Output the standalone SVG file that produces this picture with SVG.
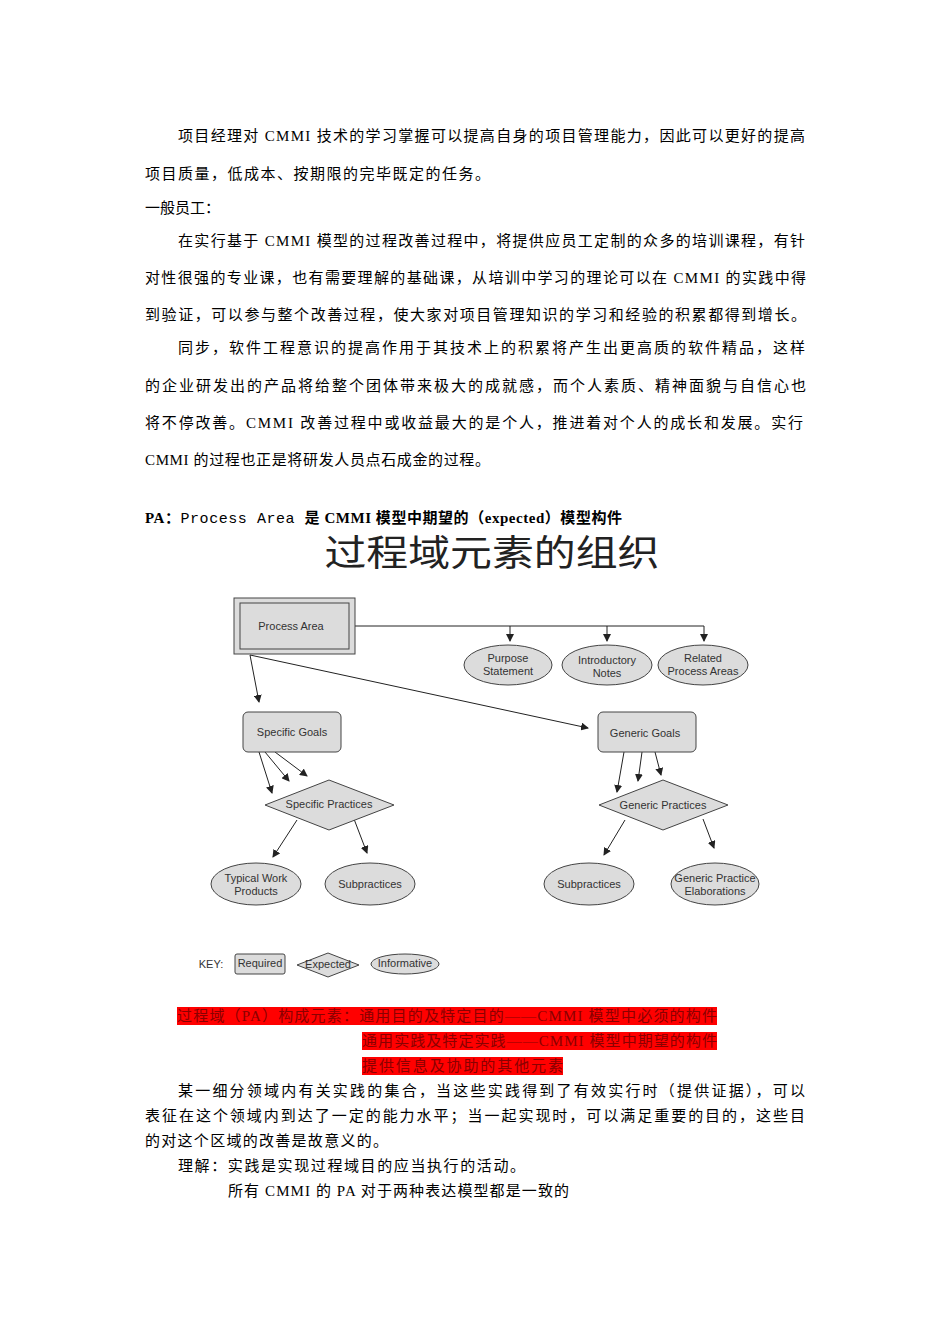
<svg xmlns="http://www.w3.org/2000/svg" width="950" height="1344" viewBox="0 0 950 1344">
<style>
.b{font-family:"Liberation Serif","Noto Sans CJK SC",serif;font-size:15px;fill:#000}
.d{font-family:"Liberation Sans",Arial,sans-serif;font-size:11px;fill:#333;text-anchor:middle}
.n{fill:#dcdcdc;stroke:#444;stroke-width:1}
.c line,.c path{stroke:#222;stroke-width:1;fill:none;marker-end:url(#a)}
.r{font-family:"Liberation Serif","Noto Sans CJK SC",serif;font-size:15px;fill:#8a0000}
</style>
<defs><marker id="a" markerWidth="8" markerHeight="8" refX="7" refY="4" orient="auto" markerUnits="userSpaceOnUse"><path d="M0,0 L8,4 L0,8 z" fill="#222"/></marker></defs>
<rect width="950" height="1344" fill="#fff"/>
<text class="b" x="178" y="141" textLength="627" lengthAdjust="spacing">项目经理对 CMMI 技术的学习掌握可以提高自身的项目管理能力，因此可以更好的提高</text>
<text class="b" x="145" y="179" textLength="345" lengthAdjust="spacing">项目质量，低成本、按期限的完毕既定的任务。</text>
<text class="b" x="145" y="213">一般员工：</text>
<text class="b" x="178" y="246" textLength="627" lengthAdjust="spacing">在实行基于 CMMI 模型的过程改善过程中，将提供应员工定制的众多的培训课程，有针</text>
<text class="b" x="145" y="283" textLength="661" lengthAdjust="spacing">对性很强的专业课，也有需要理解的基础课，从培训中学习的理论可以在 CMMI 的实践中得</text>
<text class="b" x="145" y="320" textLength="661" lengthAdjust="spacing">到验证，可以参与整个改善过程，使大家对项目管理知识的学习和经验的积累都得到增长。</text>
<text class="b" x="178" y="353" textLength="627" lengthAdjust="spacing">同步，软件工程意识的提高作用于其技术上的积累将产生出更高质的软件精品，这样</text>
<text class="b" x="145" y="391" textLength="661" lengthAdjust="spacing">的企业研发出的产品将给整个团体带来极大的成就感，而个人素质、精神面貌与自信心也</text>
<text class="b" x="145" y="428" textLength="658" lengthAdjust="spacing">将不停改善。CMMI 改善过程中或收益最大的是个人，推进着对个人的成长和发展。实行</text>
<text class="b" x="145" y="465" textLength="345" lengthAdjust="spacing">CMMI 的过程也正是将研发人员点石成金的过程。</text>
<text class="b" x="145" y="523" textLength="477" lengthAdjust="spacing"><tspan font-weight="bold">PA：</tspan><tspan font-family="Liberation Mono,monospace">Process Area </tspan><tspan font-weight="bold">是 CMMI 模型中期望的（expected）模型构件</tspan></text>
<text x="492" y="566" text-anchor="middle" font-family="Noto Sans CJK SC,sans-serif" font-size="36" fill="#222" textLength="335" lengthAdjust="spacingAndGlyphs">过程域元素的组织</text>

<g class="c" id="connectors">
<line x1="355" y1="626" x2="704" y2="626" style="marker-end:none"/>
<line x1="510" y1="626" x2="510" y2="641"/>
<line x1="607" y1="626" x2="607" y2="641"/>
<line x1="704" y1="626" x2="704" y2="641"/>
<line x1="250" y1="655" x2="259" y2="702"/>
<line x1="250" y1="655" x2="588" y2="728"/>
<line x1="259" y1="752" x2="272" y2="793"/>
<line x1="265" y1="752" x2="289" y2="781"/>
<line x1="275" y1="752" x2="307" y2="776"/>
<line x1="624" y1="752" x2="617" y2="792"/>
<line x1="642" y1="752" x2="638" y2="781"/>
<line x1="655" y1="752" x2="661" y2="775"/>
<line x1="297" y1="820" x2="273" y2="857"/>
<line x1="354" y1="819" x2="367" y2="853"/>
<line x1="625" y1="820" x2="604" y2="855"/>
<line x1="703" y1="819" x2="714" y2="848"/>
</g>
<g id="pa"><rect class="n" x="234" y="598" width="121" height="56"/><rect class="n" x="240" y="603" width="109" height="46"/><text class="d" x="291" y="630">Process Area</text></g>
<g id="purpose"><ellipse class="n" cx="508" cy="665" rx="44" ry="20"/><text class="d" x="508" y="662">Purpose</text><text class="d" x="508" y="675">Statement</text></g>
<g id="intro"><ellipse class="n" cx="607" cy="665" rx="45" ry="20"/><text class="d" x="607" y="664">Introductory</text><text class="d" x="607" y="677">Notes</text></g>
<g id="related"><ellipse class="n" cx="703" cy="665" rx="45" ry="20"/><text class="d" x="703" y="662">Related</text><text class="d" x="703" y="675">Process Areas</text></g>
<g id="sg"><rect class="n" x="243" y="712" width="98" height="40" rx="5"/><text class="d" x="292" y="736">Specific Goals</text></g>
<g id="gg"><rect class="n" x="598" y="712" width="98" height="40" rx="5"/><text class="d" x="645" y="737">Generic Goals</text></g>
<g id="sp"><path class="n" d="M265,805 L329,780 L394,805 L329,830 Z"/><text class="d" x="329" y="808">Specific Practices</text></g>
<g id="gp"><path class="n" d="M599,805 L663,780 L728,805 L663,830 Z"/><text class="d" x="663" y="809">Generic Practices</text></g>
<g id="twp"><ellipse class="n" cx="256" cy="884" rx="45" ry="21"/><text class="d" x="256" y="882">Typical Work</text><text class="d" x="256" y="895">Products</text></g>
<g id="sub1"><ellipse class="n" cx="370" cy="884" rx="45" ry="21"/><text class="d" x="370" y="888">Subpractices</text></g>
<g id="sub2"><ellipse class="n" cx="589" cy="884" rx="45" ry="21"/><text class="d" x="589" y="888">Subpractices</text></g>
<g id="gpe"><ellipse class="n" cx="715" cy="884" rx="44" ry="21"/><text class="d" x="715" y="882">Generic Practice</text><text class="d" x="715" y="895">Elaborations</text></g>
<g id="key">
<text class="d" x="211" y="968" font-size="9">KEY:</text>
<rect class="n" x="235" y="954" width="50" height="20" rx="2"/><text class="d" x="260" y="967" font-size="9">Required</text>
<path class="n" d="M297,965 L328,953 L359,965 L328,977 Z"/><text class="d" x="328" y="968" font-size="9">Expected</text>
<ellipse class="n" cx="405" cy="964" rx="34" ry="10"/><text class="d" x="405" y="967" font-size="9">Informative</text>
</g>
<rect x="177" y="1007" width="540" height="18" fill="#ff0000"/>
<rect x="362" y="1032" width="355" height="18" fill="#ff0000"/>
<rect x="362" y="1057" width="201" height="18" fill="#ff0000"/>
<text class="r" x="177" y="1021" textLength="540" lengthAdjust="spacing">过程域（PA）构成元素：通用目的及特定目的——CMMI 模型中必须的构件</text>
<text class="r" x="362" y="1046" textLength="355" lengthAdjust="spacing">通用实践及特定实践——CMMI 模型中期望的构件</text>
<text class="r" x="362" y="1071" textLength="201" lengthAdjust="spacing">提供信息及协助的其他元素</text>
<text class="b" x="178" y="1096" textLength="627" lengthAdjust="spacing">某一细分领域内有关实践的集合，当这些实践得到了有效实行时（提供证据），可以</text>
<text class="b" x="145" y="1121" textLength="660" lengthAdjust="spacing">表征在这个领域内到达了一定的能力水平；当一起实现时，可以满足重要的目的，这些目</text>
<text class="b" x="145" y="1146" textLength="243" lengthAdjust="spacing">的对这个区域的改善是故意义的。</text>
<text class="b" x="178" y="1171" textLength="347" lengthAdjust="spacing">理解：实践是实现过程域目的应当执行的活动。</text>
<text class="b" x="228" y="1196" textLength="341" lengthAdjust="spacing">所有 CMMI 的 PA 对于两种表达模型都是一致的</text>
</svg>
